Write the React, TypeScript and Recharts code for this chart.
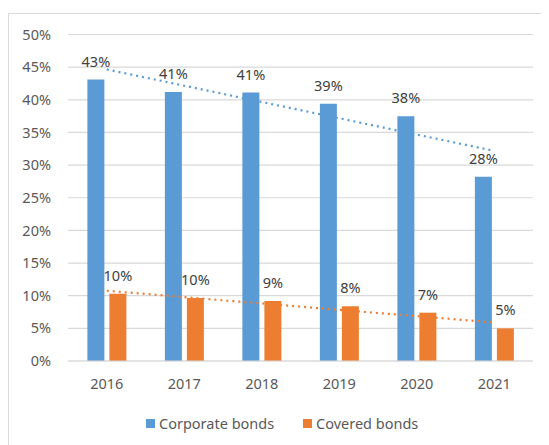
import {
  ComposedChart,
  Bar,
  Line,
  XAxis,
  YAxis,
  CartesianGrid,
  LabelList,
} from "recharts"

const years = ["2016", "2017", "2018", "2019", "2020", "2021"]
const corporate = [43.1, 41.2, 41.1, 39.4, 37.5, 28.2]
const covered = [10.3, 9.65, 9.2, 8.4, 7.4, 5.0]
const yTicks = [0, 5, 10, 15, 20, 25, 30, 35, 40, 45, 50]

const BLUE = "#5B9BD5"
const ORANGE = "#ED7D31"
const TEXT = "#595959"
const FONT = "'Noto Sans', sans-serif"

// least squares trend, same as Excel's linear trendline
const trend = (vals: number[]) => {
  const n = vals.length
  const mx = (n - 1) / 2
  const my = vals.reduce((a, b) => a + b, 0) / n
  let num = 0
  let den = 0
  vals.forEach((v, i) => {
    num += (i - mx) * (v - my)
    den += (i - mx) * (i - mx)
  })
  const slope = num / den
  return vals.map((_, i) => my + slope * (i - mx))
}

const corpTrend = trend(corporate)
const covTrend = trend(covered)

const data = years.map((year, i) => ({
  year,
  corporate: corporate[i],
  covered: covered[i],
  corpTrend: corpTrend[i],
  covTrend: covTrend[i],
}))

const pct = (v: any) => `${Math.round(Number(v))}%`

const LegendItem = ({ color, label, x }: { color: string; label: string; x: number }) => (
  <div style={{ position: "absolute", left: x, top: 399, display: "flex", alignItems: "center" }}>
    <div style={{ width: 9, height: 9, background: color, marginRight: 4 }} />
    <span style={{ fontFamily: FONT, fontSize: 14.5, color: TEXT, lineHeight: "20px" }}>{label}</span>
  </div>
)

export default function App() {
  return (
    <div
      style={{
        position: "relative",
        marginTop: 5,
        width: 540,
        height: 431,
        borderTop: "1px solid #d9d9d9",
        borderLeft: "1px solid #d9d9d9",
      }}
    >
      <ComposedChart
        width={540}
        height={431}
        data={data}
        margin={{ top: 20.5, right: 16, left: 0, bottom: 54 }}
        barCategoryGap="25%"
        barGap={5}
      >
        <CartesianGrid vertical={false} stroke="#d9d9d9" strokeWidth={1.2} />
        <XAxis
          dataKey="year"
          height={30}
          tickLine={false}
          tickSize={0}
          tickMargin={18}
          axisLine={{ stroke: "#d9d9d9", strokeWidth: 1.2 }}
          tick={{ fill: TEXT, fontSize: 14.5, fontFamily: FONT }}
        />
        <YAxis
          width={59}
          domain={[0, 50]}
          ticks={yTicks}
          tickFormatter={(v) => `${v}%`}
          tickLine={false}
          tickSize={0}
          tickMargin={17}
          axisLine={false}
          tick={{ fill: TEXT, fontSize: 14.5, fontFamily: FONT }}
        />
        <Bar dataKey="corporate" fill={BLUE} isAnimationActive={false}>
          <LabelList dataKey="corporate" position="top" offset={13} formatter={pct} fill="#404040" fontSize={14.5} fontFamily={FONT} />
        </Bar>
        <Bar dataKey="covered" fill={ORANGE} isAnimationActive={false}>
          <LabelList dataKey="covered" position="top" offset={13} formatter={pct} fill="#404040" fontSize={14.5} fontFamily={FONT} />
        </Bar>
        <Line
          dataKey="corpTrend"
          stroke={BLUE}
          strokeWidth={2.2}
          strokeDasharray="2 4"
          dot={false}
          activeDot={false}
          type="linear"
          isAnimationActive={false}
        />
        <Line
          dataKey="covTrend"
          stroke={ORANGE}
          strokeWidth={2.2}
          strokeDasharray="2 4"
          dot={false}
          activeDot={false}
          type="linear"
          isAnimationActive={false}
        />
      </ComposedChart>
      <LegendItem color={BLUE} label="Corporate bonds" x={137} />
      <LegendItem color={ORANGE} label="Covered bonds" x={294} />
    </div>
  )
}
